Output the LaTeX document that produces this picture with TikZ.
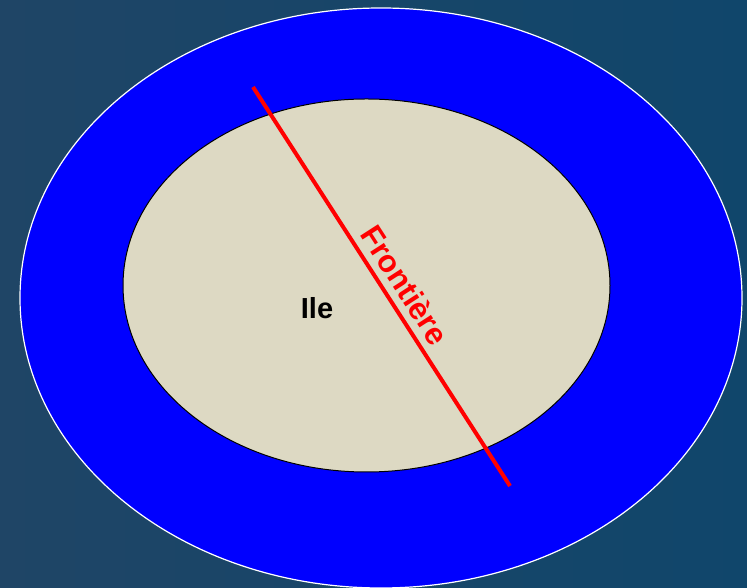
\documentclass[tikz,border=0pt]{standalone}
\usepackage{fontspec}
\setmainfont{Liberation Sans}
\definecolor{bgA}{HTML}{1F4566}
\definecolor{bgB}{HTML}{10466B}
\definecolor{sea}{HTML}{0000FF}
\definecolor{land}{HTML}{DDD9C3}
\definecolor{border}{HTML}{FF0000}
\tikzset{
  lbl/.style={font=\bfseries\fontsize{29}{32}\selectfont, inner sep=0pt},
  flbl/.style={font=\bfseries\fontsize{31}{34}\selectfont, inner sep=0pt},
}
\begin{document}
\begin{tikzpicture}[x=1pt,y=1pt]
\useasboundingbox (0,0) rectangle (747,588);
\clip (0,0) rectangle (747,588);
\shade[left color=bgA,right color=bgB] (0,0) rectangle (747,588);
\draw[fill=sea, draw=white, line width=1.2pt] (381,290) ellipse [x radius=361, y radius=290];
\draw[fill=land, draw=black, line width=1pt] (366.5,302.5) ellipse [x radius=243.5, y radius=186.5];
\coordinate (a) at (253,501);
\coordinate (b) at (510,102);
\draw[border, line width=4pt] (a) -- (b);
\node[flbl, text=border, rotate=-57.2] (front) at (405,303) {Frontière};
\node[lbl, text=black] (ile) at (317,280) {Ile};
\end{tikzpicture}
\end{document}
